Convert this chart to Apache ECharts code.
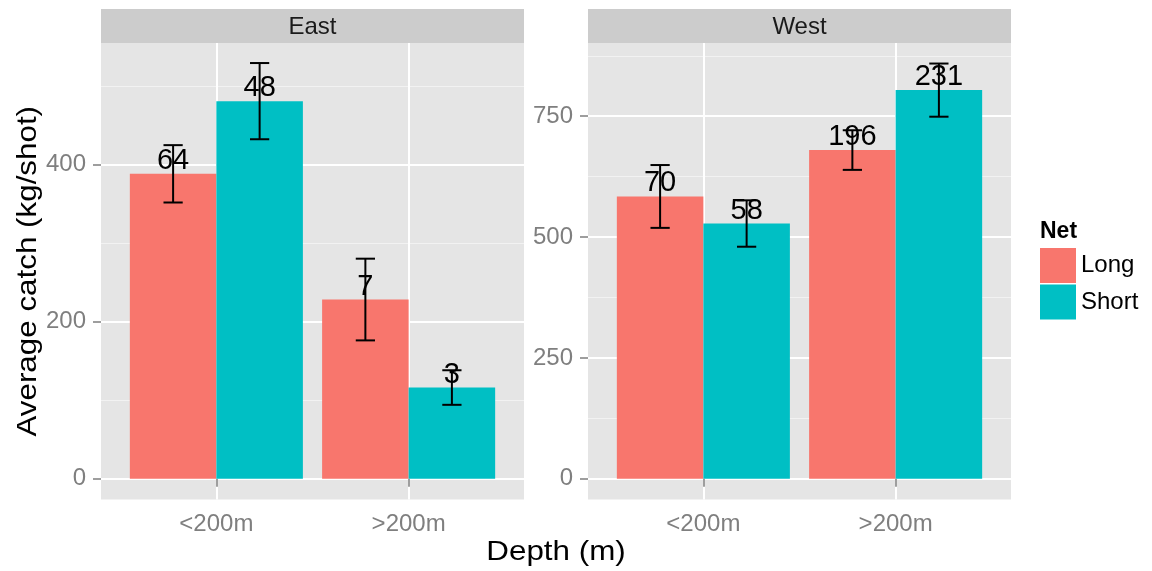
<!DOCTYPE html>
<html><head><meta charset="utf-8">
<script src="https://cdn.jsdelivr.net/npm/echarts@6/dist/echarts.min.js"></script>
<style>html,body{margin:0;padding:0;background:#fff}#c{width:1152px;height:571px}</style>
</head><body><div id="c"></div>
<script>
// ---- data ----
const depths = ['<200m', '>200m'];
const regions = ['East', 'West'];
const nets = ['Long', 'Short'];

const eastLongMean = [388, 228];
const eastLongSE = [36.5, 52];
const eastLongN = [64, 7];
const eastShortMean = [480.5, 116];
const eastShortSE = [48.5, 22];
const eastShortN = [48, 3];

const westLongMean = [584, 680];
const westLongSE = [65, 41];
const westLongN = [70, 196];
const westShortMean = [528, 804];
const westShortSE = [48, 55];
const westShortN = [58, 231];

const eastTicks = [0, 200, 400];
const eastMinorTicks = [100, 300, 500];
const westTicks = [0, 250, 500, 750];
const westMinorTicks = [125, 375, 625, 875];
const eastRange = [-26.5, 554.5];
const westRange = [-43, 901.5];

// ---- layout / style ----
const FONT = 'Liberation Sans, Arial, Helvetica, sans-serif';
const colors = { Long: '#F8766D', Short: '#00BFC4' };
const panelLeft = [101, 588];
const panelW = 423, panelTop = 43, panelH = 456.5, stripTop = 9, stripH = 34;
const dodge = 0.45, capHalf = 0.05;
const barW = panelW / 2.2 * dodge;

const regionData = {
  East: { Long: [eastLongMean, eastLongSE, eastLongN], Short: [eastShortMean, eastShortSE, eastShortN],
          ticks: eastTicks, minor: eastMinorTicks, range: eastRange },
  West: { Long: [westLongMean, westLongSE, westLongN], Short: [westShortMean, westShortSE, westShortN],
          ticks: westTicks, minor: westMinorTicks, range: westRange }
};

const grids = [], xAxes = [], yAxes = [], series = [], graphics = [];
regions.forEach((reg, r) => {
  const rd = regionData[reg];
  grids.push({ left: panelLeft[r], top: panelTop, width: panelW, height: panelH,
    show: true, backgroundColor: '#E5E5E5', borderWidth: 0, containLabel: false });
  xAxes.push({ type: 'value', gridIndex: r, min: 0.4, max: 2.6,
    axisLine: { show: false },
    axisTick: { show: true, customValues: [1, 2], length: 8, lineStyle: { color: '#7F7F7F', width: 1.5 } },
    axisLabel: { show: true, customValues: [1, 2], formatter: v => depths[Math.round(v) - 1],
      fontSize: 24, color: '#7F7F7F', fontFamily: FONT, margin: 13 },
    splitLine: { show: true, lineStyle: { color: '#FFFFFF', width: 2 } } });
  yAxes.push({ type: 'value', gridIndex: r, min: rd.range[0], max: rd.range[1],
    axisLine: { show: false },
    axisTick: { show: true, customValues: rd.ticks, length: 8, lineStyle: { color: '#7F7F7F', width: 1.5 } },
    axisLabel: { show: true, customValues: rd.ticks, fontSize: 24, color: '#7F7F7F', fontFamily: FONT, margin: 15 },
    splitLine: { show: true, lineStyle: { color: '#FFFFFF', width: 2 } } });
  yAxes.push({ type: 'value', gridIndex: r, min: rd.range[0], max: rd.range[1],
    axisLine: { show: false },
    axisTick: { show: false, customValues: rd.minor },
    axisLabel: { show: false, customValues: rd.minor },
    splitLine: { show: true, lineStyle: { color: '#F2F2F2', width: 1 } } });

  nets.forEach((net, n) => {
    const [mean, se, cnt] = rd[net];
    series.push({
      name: net, type: 'bar', xAxisIndex: r, yAxisIndex: 2 * r,
      data: depths.map((d, i) => [i + 1, mean[i]]),
      barWidth: barW, barGap: '0%',
      itemStyle: { color: colors[net] },
      label: { show: true, position: 'top', distance: -1.5, color: '#000', fontSize: 29, fontFamily: FONT,
        formatter: p => String(cnt[p.dataIndex]) },
      emphasis: { disabled: true }, z: 2
    });
    const shift = (n === 0 ? -1 : 1) * dodge / 2;
    series.push({
      name: net + ' se', type: 'custom', xAxisIndex: r, yAxisIndex: 2 * r,
      encode: { x: 0, y: [1, 2] },
      data: depths.map((d, i) => [i + 1, mean[i] - se[i], mean[i] + se[i]]),
      renderItem: (params, api) => {
        const x = api.value(0) + shift;
        const lo = api.coord([x, api.value(1)]);
        const hi = api.coord([x, api.value(2)]);
        const l = api.coord([x - capHalf, api.value(1)])[0];
        const rr = api.coord([x + capHalf, api.value(1)])[0];
        const st = { stroke: '#000', lineWidth: 2 };
        return { type: 'group', children: [
          { type: 'line', shape: { x1: lo[0], y1: lo[1], x2: hi[0], y2: hi[1] }, style: st },
          { type: 'line', shape: { x1: l, y1: hi[1], x2: rr, y2: hi[1] }, style: st },
          { type: 'line', shape: { x1: l, y1: lo[1], x2: rr, y2: lo[1] }, style: st }
        ] };
      },
      z: 3, silent: true
    });
  });

  graphics.push({ type: 'rect', shape: { x: panelLeft[r], y: stripTop, width: panelW, height: stripH },
    style: { fill: '#CCCCCC' }, silent: true });
  graphics.push({ type: 'text', x: panelLeft[r] + panelW / 2, y: stripTop + stripH / 2 + 1,
    style: { text: reg, fill: '#1A1A1A', font: '24px ' + FONT, align: 'center', verticalAlign: 'middle' } });
});

graphics.push({ type: 'text', x: (panelLeft[0] + panelLeft[1] + panelW) / 2, y: 552, scaleX: 1.12,
  style: { text: 'Depth (m)', fill: '#000', font: '28px ' + FONT, align: 'center', verticalAlign: 'middle' } });
graphics.push({ type: 'text', x: 28, y: panelTop + panelH / 2, rotation: Math.PI / 2, scaleX: 1.12,
  style: { text: 'Average catch (kg/shot)', fill: '#000', font: '28px ' + FONT, align: 'center', verticalAlign: 'middle' } });
graphics.push({ type: 'text', x: 1040, y: 232,
  style: { text: 'Net', fill: '#000', font: 'bold 23px ' + FONT, align: 'left', verticalAlign: 'middle' } });

const chart = echarts.init(document.getElementById('c'), null, { renderer: 'canvas' });
chart.setOption({
  backgroundColor: '#FFFFFF',
  animation: false,
  grid: grids, xAxis: xAxes, yAxis: yAxes, series: series,
  legend: { data: nets, orient: 'vertical', left: 1040, top: 248, padding: 0, icon: 'rect',
    itemWidth: 36, itemHeight: 35, itemGap: 1.5, selectedMode: false,
    textStyle: { fontSize: 24, color: '#000', fontFamily: FONT } },
  graphic: graphics
});
</script></body></html>
